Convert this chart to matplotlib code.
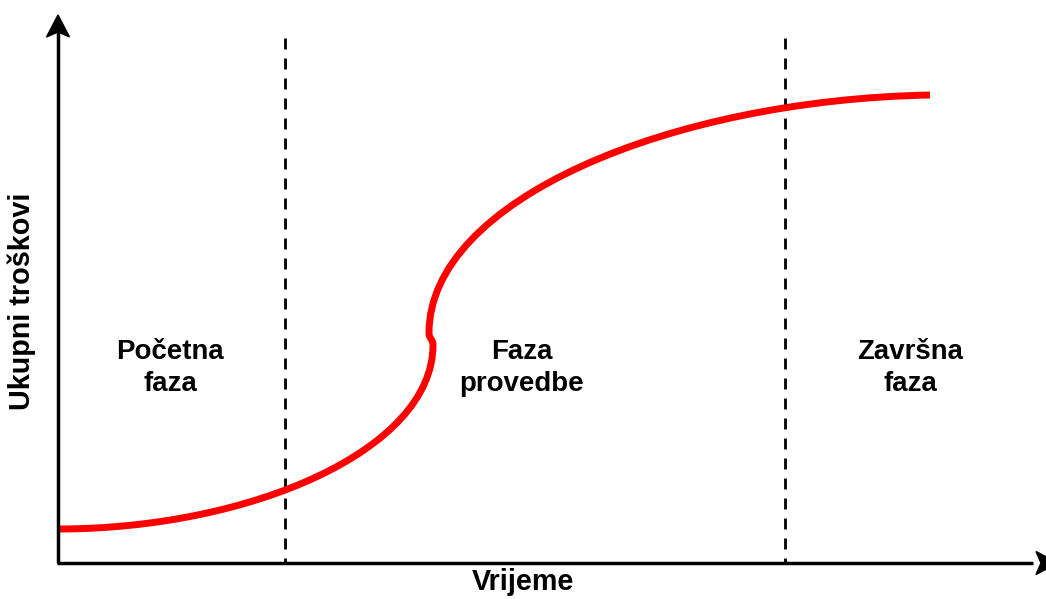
import matplotlib
matplotlib.use("Agg")
import matplotlib.pyplot as plt
from matplotlib.patches import Polygon, PathPatch
from matplotlib.path import Path

# ---- data (time vs. total cost, arbitrary units) ----
# S-curve as cubic Bezier nodes: start, ctrl, ctrl, end, ...
curve_time = [0, 192, 375, 375, 375, 371, 371, 371, 612, 872]
curve_cost = [34, 34, 113, 218, 224, 224, 230, 363, 463, 468]

phase_bounds = [227, 727]
phase_labels = ["Početna\nfaza", "Faza\nprovedbe", "Završna\nfaza"]
phase_label_x = [112, 464, 852]
phase_label_y = 195
x_label = "Vrijeme"
y_label = "Ukupni troškovi"

W, H = 1046, 599
fig = plt.figure(figsize=(W / 100, H / 100), dpi=100)
ox, oy = 58, 563
ax = fig.add_axes([ox / W, (H - oy) / H, (W - ox) / W, (oy - 16) / H])
ax.set_xlim(0, W - ox)
ax.set_ylim(0, oy - 16)
ax.axis("off")

font = dict(family=["Liberation Sans", "DejaVu Sans"], weight="bold", color="black")

# phase separators (drawn top-down so the dash pattern starts at the top)
for xb in phase_bounds:
    ax.plot([xb, xb], [525, 0], color="black", lw=2.0,
            linestyle=(0, (3.95, 3.25)), solid_capstyle="butt",
            dash_capstyle="butt", zorder=2)

# S-curve
verts = list(zip(curve_time, curve_cost))
codes = [Path.MOVETO] + [Path.CURVE4] * (len(verts) - 1)
ax.add_patch(PathPatch(Path(verts, codes), facecolor="none", edgecolor="#ff0000",
                       lw=5.0, capstyle="butt", joinstyle="round", zorder=3))

# axes with arrowheads
ax.plot([0, 0], [0, 533], color="black", lw=2.5, solid_capstyle="butt",
        clip_on=False, zorder=4)
ax.plot([-1, 975], [0, 0], color="black", lw=2.5, solid_capstyle="butt",
        clip_on=False, zorder=4)
ax.add_patch(Polygon([[0, 548], [-11.5, 526], [0, 531], [11.5, 526]],
                     closed=True, color="black", clip_on=False, zorder=5))
ax.add_patch(Polygon([[1000, 0], [978, 11.5], [983, 0], [978, -11.5]],
                     closed=True, color="black", clip_on=False, zorder=5))

# phase labels
for lx, lab in zip(phase_label_x, phase_labels):
    ax.text(lx, phase_label_y, lab, ha="center", va="center",
            fontsize=19.9, linespacing=1.32, **font)

# axis labels
fig.text(523 / W, 1 - 582 / H, x_label, ha="center", va="center",
         fontsize=20.7, **font)
fig.text(22 / W, 1 - 301 / H, y_label, ha="center", va="center",
         rotation=90, fontsize=20.7, **font)

fig.savefig("out.png", dpi=100, facecolor="white")
